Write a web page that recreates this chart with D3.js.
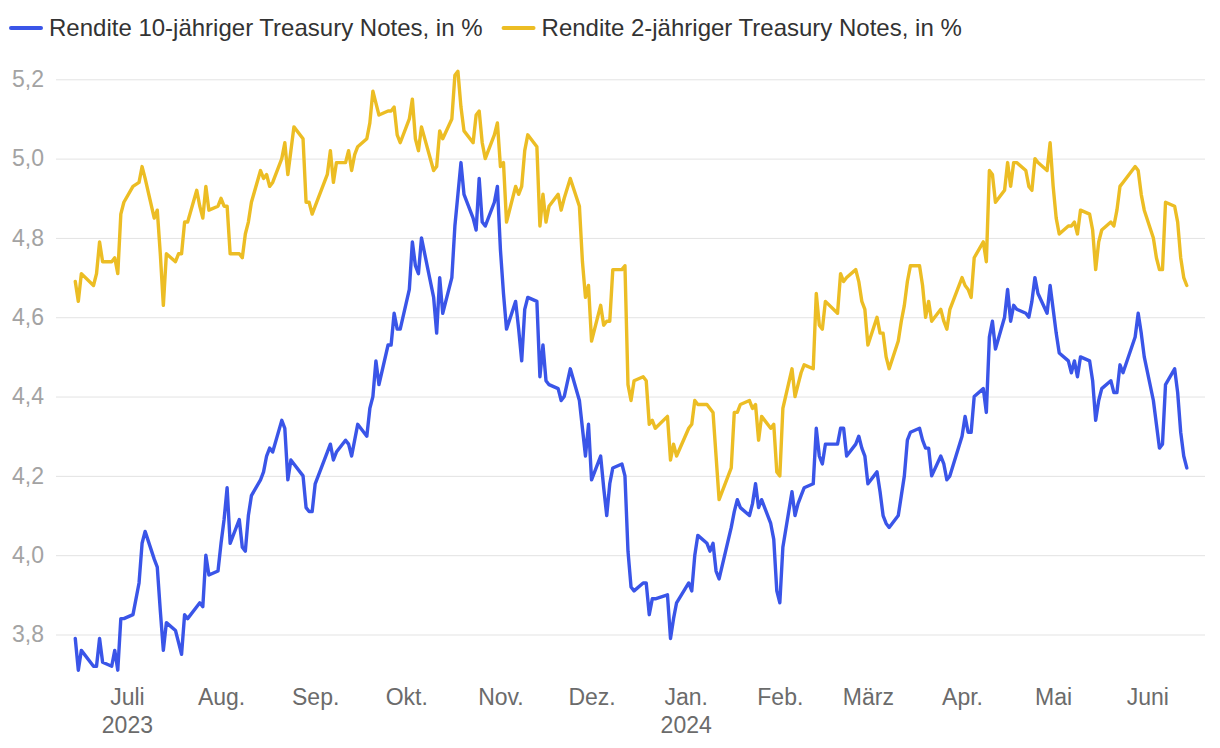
<!DOCTYPE html>
<html>
<head>
<meta charset="utf-8">
<script src="https://cdn.jsdelivr.net/npm/d3@7"></script>
<style>
  body { margin: 0; background: #fff; }
  svg { display: block; font-family: "Liberation Sans", Arial, Helvetica, sans-serif; }
</style>
</head>
<body>
<svg id="chart" width="1220" height="748"></svg>
<script>
// ---- Data (daily, business days) ----
const dates = [
"2023-06-14","2023-06-15","2023-06-16","2023-06-20","2023-06-21","2023-06-22","2023-06-23","2023-06-26","2023-06-27","2023-06-28","2023-06-29","2023-06-30",
"2023-07-03","2023-07-05","2023-07-06","2023-07-07","2023-07-10","2023-07-11","2023-07-12","2023-07-13","2023-07-14","2023-07-17","2023-07-18","2023-07-19","2023-07-20","2023-07-21","2023-07-24","2023-07-25","2023-07-26","2023-07-27","2023-07-28","2023-07-31",
"2023-08-01","2023-08-02","2023-08-03","2023-08-04","2023-08-07","2023-08-08","2023-08-09","2023-08-10","2023-08-11","2023-08-14","2023-08-15","2023-08-16","2023-08-17","2023-08-18","2023-08-21","2023-08-22","2023-08-23","2023-08-24","2023-08-25","2023-08-28","2023-08-29","2023-08-30","2023-08-31",
"2023-09-01","2023-09-05","2023-09-06","2023-09-07","2023-09-08","2023-09-11","2023-09-12","2023-09-13","2023-09-14","2023-09-15","2023-09-18","2023-09-19","2023-09-20","2023-09-21","2023-09-22","2023-09-25","2023-09-26","2023-09-27","2023-09-28","2023-09-29",
"2023-10-02","2023-10-03","2023-10-04","2023-10-05","2023-10-06","2023-10-10","2023-10-11","2023-10-12","2023-10-13","2023-10-16","2023-10-17","2023-10-18","2023-10-19","2023-10-20","2023-10-23","2023-10-24","2023-10-25","2023-10-26","2023-10-27","2023-10-30","2023-10-31",
"2023-11-01","2023-11-02","2023-11-03","2023-11-06","2023-11-07","2023-11-08","2023-11-09","2023-11-10","2023-11-13","2023-11-14","2023-11-15","2023-11-16","2023-11-17","2023-11-20","2023-11-21","2023-11-22","2023-11-24","2023-11-27","2023-11-28","2023-11-29","2023-11-30",
"2023-12-01","2023-12-04","2023-12-05","2023-12-06","2023-12-07","2023-12-08","2023-12-11","2023-12-12","2023-12-13","2023-12-14","2023-12-15","2023-12-18","2023-12-19","2023-12-20","2023-12-21","2023-12-22","2023-12-26","2023-12-27","2023-12-28","2023-12-29",
"2024-01-02","2024-01-03","2024-01-04","2024-01-05","2024-01-08","2024-01-09","2024-01-10","2024-01-11","2024-01-12","2024-01-16","2024-01-17","2024-01-18","2024-01-19","2024-01-22","2024-01-23","2024-01-24","2024-01-25","2024-01-26","2024-01-29","2024-01-30","2024-01-31",
"2024-02-01","2024-02-02","2024-02-05","2024-02-06","2024-02-07","2024-02-08","2024-02-09","2024-02-12","2024-02-13","2024-02-14","2024-02-15","2024-02-16","2024-02-20","2024-02-21","2024-02-22","2024-02-23","2024-02-26","2024-02-27","2024-02-28","2024-02-29",
"2024-03-01","2024-03-04","2024-03-05","2024-03-06","2024-03-07","2024-03-08","2024-03-11","2024-03-12","2024-03-13","2024-03-14","2024-03-15","2024-03-18","2024-03-19","2024-03-20","2024-03-21","2024-03-22","2024-03-25","2024-03-26","2024-03-27","2024-03-28",
"2024-04-01","2024-04-02","2024-04-03","2024-04-04","2024-04-05","2024-04-08","2024-04-09","2024-04-10","2024-04-11","2024-04-12","2024-04-15","2024-04-16","2024-04-17","2024-04-18","2024-04-19","2024-04-22","2024-04-23","2024-04-24","2024-04-25","2024-04-26","2024-04-29","2024-04-30",
"2024-05-01","2024-05-02","2024-05-03","2024-05-06","2024-05-07","2024-05-08","2024-05-09","2024-05-10","2024-05-13","2024-05-14","2024-05-15","2024-05-16","2024-05-17","2024-05-20","2024-05-21","2024-05-22","2024-05-23","2024-05-24","2024-05-28","2024-05-29","2024-05-30","2024-05-31",
"2024-06-03","2024-06-04","2024-06-05","2024-06-06","2024-06-07","2024-06-10","2024-06-11","2024-06-12","2024-06-13","2024-06-14"
];

const yield10 = [
3.79,3.71,3.76,3.72,3.72,3.79,3.73,3.72,3.76,3.71,3.84,3.84,
3.85,3.93,4.03,4.06,3.99,3.97,3.86,3.76,3.83,3.81,3.78,3.75,3.85,3.84,3.87,3.88,3.87,4.00,3.95,3.96,
4.03,4.09,4.17,4.03,4.09,4.02,4.01,4.10,4.15,4.19,4.21,4.25,4.27,4.26,4.34,4.32,4.19,4.24,4.23,4.20,4.12,4.11,4.11,
4.18,4.26,4.28,4.24,4.26,4.29,4.28,4.25,4.29,4.33,4.30,4.37,4.40,4.49,4.43,4.53,4.53,4.61,4.57,4.57,
4.67,4.79,4.73,4.71,4.80,4.65,4.56,4.70,4.61,4.70,4.83,4.91,4.99,4.91,4.85,4.82,4.95,4.84,4.83,4.89,4.93,
4.77,4.66,4.57,4.64,4.57,4.49,4.62,4.65,4.64,4.45,4.53,4.44,4.43,4.42,4.39,4.40,4.47,4.39,4.32,4.25,4.33,
4.19,4.25,4.17,4.10,4.18,4.22,4.23,4.20,4.01,3.92,3.91,3.93,3.93,3.85,3.89,3.89,3.90,3.79,3.84,3.88,
3.93,3.91,4.00,4.05,4.03,4.01,4.03,3.96,3.94,4.07,4.11,4.14,4.12,4.10,4.13,4.18,4.12,4.14,4.08,4.04,3.91,
3.88,4.02,4.16,4.10,4.13,4.15,4.17,4.18,4.32,4.25,4.23,4.28,4.28,4.32,4.32,4.25,4.28,4.30,4.27,4.25,
4.18,4.21,4.16,4.10,4.08,4.07,4.10,4.15,4.20,4.29,4.31,4.32,4.29,4.27,4.27,4.20,4.25,4.23,4.19,4.20,
4.30,4.35,4.31,4.31,4.40,4.42,4.36,4.55,4.59,4.52,4.60,4.67,4.59,4.63,4.62,4.61,4.60,4.64,4.70,4.66,4.61,4.68,
4.62,4.56,4.51,4.49,4.46,4.49,4.45,4.50,4.49,4.44,4.34,4.39,4.42,4.44,4.41,4.41,4.48,4.46,4.55,4.61,4.56,4.50,
4.39,4.33,4.27,4.28,4.43,4.47,4.41,4.31,4.25,4.22
];

const yield2 = [
4.69,4.64,4.71,4.68,4.71,4.79,4.74,4.74,4.75,4.71,4.86,4.89,
4.93,4.94,4.98,4.95,4.85,4.87,4.76,4.63,4.76,4.74,4.76,4.76,4.84,4.84,4.92,4.88,4.85,4.93,4.87,4.88,
4.90,4.88,4.88,4.76,4.76,4.75,4.81,4.84,4.89,4.97,4.95,4.96,4.93,4.94,5.00,5.04,4.96,5.02,5.08,5.05,4.89,4.89,4.86,
4.88,4.96,5.02,4.94,4.99,4.99,5.02,4.97,5.01,5.03,5.05,5.09,5.17,5.14,5.11,5.12,5.12,5.13,5.06,5.04,
5.10,5.15,5.05,5.02,5.08,4.97,4.98,5.07,5.05,5.10,5.21,5.22,5.13,5.07,5.04,5.11,5.12,5.04,5.00,5.06,5.09,
4.98,4.99,4.84,4.93,4.91,4.93,5.02,5.06,5.03,4.83,4.91,4.84,4.88,4.91,4.87,4.90,4.95,4.88,4.74,4.65,4.68,
4.54,4.63,4.58,4.59,4.59,4.72,4.72,4.73,4.43,4.39,4.44,4.45,4.44,4.33,4.34,4.32,4.35,4.24,4.28,4.25,
4.32,4.33,4.39,4.38,4.38,4.37,4.36,4.25,4.14,4.22,4.36,4.36,4.38,4.39,4.37,4.38,4.29,4.35,4.32,4.33,4.21,
4.20,4.37,4.47,4.40,4.43,4.46,4.48,4.47,4.66,4.58,4.57,4.64,4.61,4.71,4.69,4.70,4.72,4.69,4.64,4.62,
4.53,4.60,4.56,4.56,4.50,4.47,4.54,4.59,4.63,4.69,4.73,4.73,4.68,4.60,4.64,4.59,4.62,4.59,4.57,4.62,
4.70,4.68,4.67,4.65,4.75,4.79,4.74,4.97,4.96,4.89,4.92,4.99,4.93,4.99,4.99,4.97,4.93,4.92,5.00,4.99,4.97,5.04,
4.93,4.85,4.81,4.83,4.83,4.84,4.81,4.87,4.86,4.82,4.72,4.79,4.82,4.84,4.83,4.87,4.93,4.94,4.98,4.97,4.91,4.87,
4.80,4.75,4.72,4.72,4.89,4.88,4.84,4.75,4.70,4.68
];

const seriesNames = ["Rendite 10-jähriger Treasury Notes, in %", "Rendite 2-jähriger Treasury Notes, in %"];
const seriesColors = ["#3a55e8", "#ecbd24"];
const yTicks = [3.8, 4.0, 4.2, 4.4, 4.6, 4.8, 5.0, 5.2];
const monthTicks = ["2023-07-01","2023-08-01","2023-09-01","2023-10-01","2023-11-01","2023-12-01","2024-01-01","2024-02-01","2024-03-01","2024-04-01","2024-05-01","2024-06-01"];
const monthLabels = ["Juli","Aug.","Sep.","Okt.","Nov.","Dez.","Jan.","Feb.","März","Apr.","Mai","Juni"];
const yearLabels = ["2023","","","","","","2024","","","","",""];

// ---- Chart ----
const parse = d3.utcParse("%Y-%m-%d");
const svg = d3.select("#chart");
const gridLeft = 56, gridRight = 1205;
const FONT = "Liberation Sans, Arial, sans-serif";

const x = d3.scaleUtc()
  .domain([parse("2023-07-01"), parse("2024-06-01")])
  .range([126.9, 1147.3]);
const y = d3.scaleLinear().domain([3.8, 5.2]).range([634.5, 79.3]);

// y axis with gridlines
const yAxis = d3.axisLeft(y)
  .tickValues(yTicks)
  .tickSize(-(gridRight - gridLeft))
  .tickPadding(12)
  .tickFormat(d => d3.format(".1f")(d).replace(".", ","));
const gy = svg.append("g").attr("transform", `translate(${gridLeft},0)`).call(yAxis);
gy.select(".domain").remove();
gy.selectAll(".tick line").attr("stroke", "#e3e3e3").attr("stroke-width", 1);
gy.selectAll(".tick text").attr("fill", "#a3a3a3").attr("font-size", 23)
  .attr("font-family", FONT);

// x axis
const xAxis = d3.axisBottom(x)
  .tickValues(monthTicks.map(parse))
  .tickSize(0)
  .tickPadding(0)
  .tickFormat((d, i) => monthLabels[i]);
const gx = svg.append("g").attr("transform", "translate(0,689)").call(xAxis);
gx.select(".domain").remove();
gx.selectAll(".tick text")
  .attr("fill", "#6b6b6b").attr("font-size", 23)
  .attr("font-family", FONT)
  .attr("dy", "0.71em");
gx.selectAll(".tick").append("text")
  .text((d, i) => yearLabels[i])
  .attr("fill", "#6b6b6b").attr("font-size", 23)
  .attr("font-family", FONT)
  .attr("text-anchor", "middle")
  .attr("y", 28).attr("dy", "0.71em");

// lines
const series = [yield10, yield2].map((vals, k) => ({
  name: seriesNames[k], color: seriesColors[k],
  values: dates.map((d, i) => ({ date: parse(d), v: vals[i] }))
}));
const line = d3.line().x(d => x(d.date)).y(d => y(d.v));
svg.append("g").selectAll("path").data(series).join("path")
  .attr("d", s => line(s.values))
  .attr("fill", "none")
  .attr("stroke", s => s.color)
  .attr("stroke-width", 3.4)
  .attr("stroke-linejoin", "round")
  .attr("stroke-linecap", "round");

// legend
const legend = svg.append("g").attr("transform", "translate(11,28)");
let lx = 0;
series.forEach(s => {
  const g = legend.append("g").attr("transform", `translate(${lx},0)`);
  g.append("line").attr("x1", 0).attr("x2", 30).attr("y1", 0).attr("y2", 0)
    .attr("stroke", s.color).attr("stroke-width", 4).attr("stroke-linecap", "round");
  const t = g.append("text").attr("x", 38).attr("y", 0).attr("dy", "0.35em")
    .attr("font-size", 24).attr("fill", "#333").attr("font-family", FONT).text(s.name);
  lx += 38 + t.node().getComputedTextLength() + 21;
});
</script>
</body>
</html>
